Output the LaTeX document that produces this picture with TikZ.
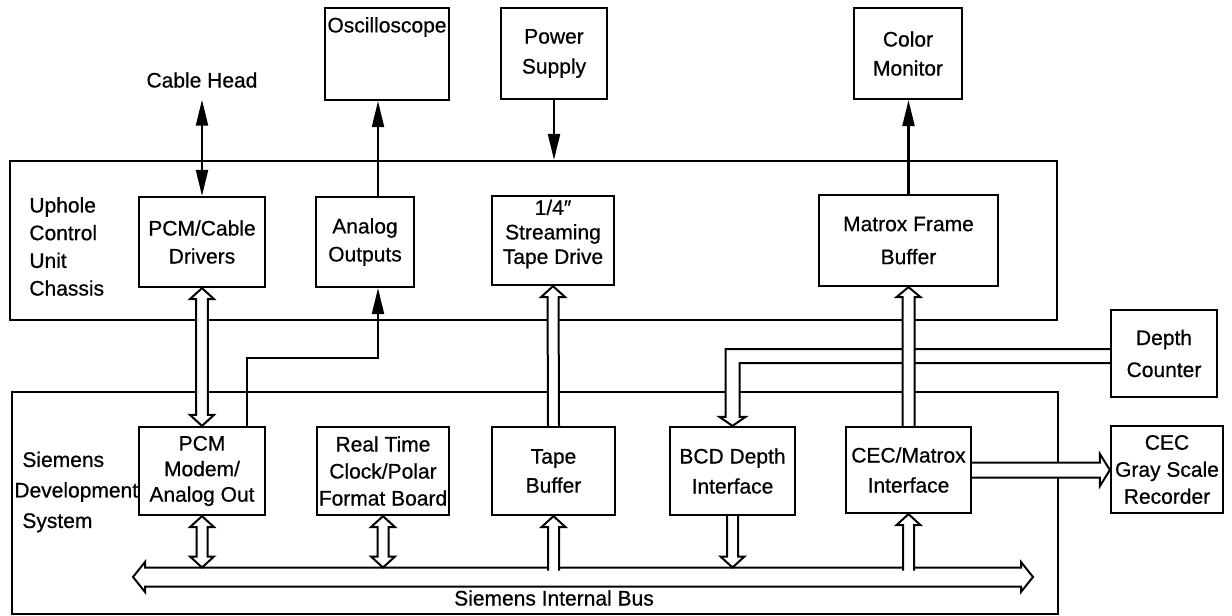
\documentclass[tikz,border=0pt]{standalone}
\usepackage{fontspec}
\setmainfont{Liberation Sans}[UprightFeatures={FakeBold=0.6}]
\usetikzlibrary{arrows.meta,calc}
\tikzset{
  box/.style={draw, line width=1.1pt, align=center, inner sep=0pt},
  ls/.style={font=\fontsize{10.5}{#1}\selectfont},
  sig/.style={line width=1.1pt, -{Triangle[length=13pt,width=6pt]}},
  sigtwo/.style={line width=1.1pt, {Triangle[length=13pt,width=6pt]}-{Triangle[length=13pt,width=6pt]}},
  hdim/.code args={#1/#2/#3}{\def\hw{#1}\def\hW{#2}\def\hh{#3}},
  hollow/.style={line width=1pt, fill=white, line join=miter},
  hollowone/.style={hollow, to path={
    ($(\tikztotarget)!\hh!(\tikztostart)$) coordinate (hb)
    ($(\tikztostart)!\hw!90:(\tikztotarget)$) -- ($(hb)!\hw!90:(\tikztotarget)$)
    -- ($(hb)!\hW!90:(\tikztotarget)$) -- (\tikztotarget)
    -- ($(hb)!\hW!-90:(\tikztotarget)$) -- ($(hb)!\hw!-90:(\tikztotarget)$)
    -- ($(\tikztostart)!\hw!-90:(\tikztotarget)$)}},
  hollowtwo/.style={hollow, to path={
    ($(\tikztotarget)!\hh!(\tikztostart)$) coordinate (hb)
    ($(\tikztostart)!\hh!(\tikztotarget)$) coordinate (ha)
    (\tikztostart) -- ($(ha)!\hW!90:(\tikztotarget)$) -- ($(ha)!\hw!90:(\tikztotarget)$)
    -- ($(hb)!\hw!90:(\tikztotarget)$) -- ($(hb)!\hW!90:(\tikztotarget)$) -- (\tikztotarget)
    -- ($(hb)!\hW!-90:(\tikztotarget)$) -- ($(hb)!\hw!-90:(\tikztotarget)$)
    -- ($(ha)!\hw!-90:(\tikztotarget)$) -- ($(ha)!\hW!-90:(\tikztotarget)$) -- cycle}},
}
\begin{document}
\begin{tikzpicture}[x=0.5pt,y=-0.5pt,font=\fontsize{10.5}{14}\selectfont]
\fill[white] (0,0) rectangle (1232,616);
\useasboundingbox (0,0) rectangle (1232,616);

% top external boxes
\node[box, minimum width=62pt, minimum height=46pt] (osc) at (387,54) {\raisebox{13.5pt}[\height][\depth]{Oscilloscope}};
\node[box, ls=15pt, minimum width=53pt, minimum height=45.5pt] (ps) at (554,53.5) {Power\\Supply};
\node[box, ls=14.5pt, minimum width=54pt, minimum height=45.5pt] (cm) at (908,53.5) {Color\\Monitor};
\node[inner sep=0pt, outer sep=6pt] (ch) at (202,80) {Cable Head};

% uphole chassis
\node[draw, line width=1.1pt, minimum width=523.5pt, minimum height=79.5pt, inner sep=0pt] (uh) at (533.5,240.5) {};
\node[anchor=west, align=left, ls=13.85pt, inner sep=0pt] (uhl) at (29,246.5) {Uphole\\Control\\Unit\\Chassis};
\node[box, ls=14pt, minimum width=63pt, minimum height=45pt] (pcd) at (202,242) {PCM/Cable\\Drivers};
\node[box, ls=14pt, minimum width=49pt, minimum height=45pt] (ana) at (365,242) {Analog\\Outputs};
\node[box, ls=12.25pt, minimum width=61pt, minimum height=44.5pt] (td) at (553,240.5) {\raisebox{3pt}[\height][\depth]{\begin{tabular}{@{}c@{}}1/4″\\Streaming\\Tape Drive\end{tabular}}};
\node[box, ls=16.5pt, minimum width=89.5pt, minimum height=45.5pt] (mfb) at (908.5,240.5) {Matrox Frame\\Buffer};

% siemens development system
\node[draw, line width=1.1pt, minimum width=523pt, minimum height=111pt, inner sep=0pt] (sd) at (535,503) {};
\node[anchor=west, align=left, ls=15.25pt, inner sep=0pt] (sdl) at (14,492) {\hspace*{4pt}Siemens\\Development\\\hspace*{4pt}System};
\node[box, ls=12.75pt, minimum width=63pt, minimum height=44pt] (pcmm) at (202,471) {PCM\\Modem/\\Analog Out};
\node[box, ls=13.5pt, minimum width=66pt, minimum height=44pt] (rtc) at (383,471) {Real Time\\Clock/Polar\\Format Board};
\node[box, ls=14.5pt, minimum width=61.5pt, minimum height=44pt] (tb) at (553.5,471) {Tape\\Buffer};
\node[box, ls=15pt, minimum width=62.5pt, minimum height=44pt] (bcd) at (732.5,471) {BCD Depth\\Interface};
\node[box, ls=15pt, minimum width=62.5pt, minimum height=43pt] (cmi) at (908.5,470) {CEC/Matrox\\Interface};

% right external boxes
\node[box, ls=16pt, minimum width=53pt, minimum height=43.5pt] (dc) at (1164,353.5) {Depth\\Counter};
\node[box, ls=13.5pt, minimum width=56pt, minimum height=43.5pt] (rec) at (1167,469.5) {CEC\\Gray Scale\\Recorder};

% bus
\coordinate (busL) at (133,577);
\coordinate (busR) at (1033,577);
\coordinate (bustop) at (0,567.5);
\coordinate (busin) at (0,570.5);
\draw[hollowtwo, hdim=4.75pt/7.5pt/6pt] (busL) to (busR);
\node (busl) at (554,598) {Siemens Internal Bus};

\coordinate (pcmb) at (pcmm.south |- bustop);
\coordinate (rtcb) at (rtc.south |- bustop);
\coordinate (tbb) at (tb.south |- busin);
\coordinate (bcdb) at (bcd.south |- bustop);
\coordinate (cmib) at (cmi.south |- busin);
\coordinate (reci) at (cmi.east -| rec.west);

\draw[hollowtwo, hdim=2.75pt/6pt/5.5pt] (pcmm.south) to (pcmb);
\draw[hollowtwo, hdim=2.75pt/6pt/5.5pt] (rtc.south) to (rtcb);
\draw[hollowone, hdim=2.75pt/6pt/5.5pt] (tbb) to (tb.south);
\draw[hollowone, hdim=2.75pt/6pt/5.5pt] (bcd.south) to (bcdb);
\draw[hollowone, hdim=2.75pt/6pt/5.5pt] (cmib) to (cmi.south);
\draw[hollowtwo, hdim=2.9pt/6pt/5.5pt] (pcd.south) to (pcmm.north);
\draw[hollowone, hdim=2.75pt/6pt/5.5pt] (tb.north) to (td.south);

% depth counter channel
\coordinate (dcin) at ($(dc.west)+(0,2.5)$);
\coordinate (dbend) at (bcd.north |- dcin);
\draw[hollow] ($(dcin)+(0,-7)$) -- ($(dbend)+(-7,-7)$) -- ($(bcd.north)+(-7,-9)$)
  -- ($(bcd.north)+(-13,-9)$) -- (bcd.north) -- ($(bcd.north)+(13,-9)$)
  -- ($(bcd.north)+(7,-9)$) -- ($(dbend)+(7,7)$) -- ($(dcin)+(0,7)$);

\draw[hollowone, hdim=3pt/6pt/5pt] (cmi.north) to (mfb.south);
\draw[hollowone, hdim=3.75pt/8pt/5pt] (cmi.east) to (reci);

% thin signal arrows
\draw[sigtwo] (pcd.north) -- (ch.south);
\coordinate (ao) at ($(ana.north)+(13,0)$);
\draw[sig] (ao) -- (ao |- osc.south);
\draw[sig] (ps.south) -- (ps.south |- uh.north);
\draw[sig] (mfb.north) -- (mfb.north |- cm.south);
\coordinate (pa1) at ($(pcmm.north)+(45,0)$);
\coordinate (pa2) at ($(ana.south)+(13,0)$);
\draw[sig] (pa1) |- ($(pa2)+(0,70)$) -- (pa2);
\end{tikzpicture}
\end{document}
